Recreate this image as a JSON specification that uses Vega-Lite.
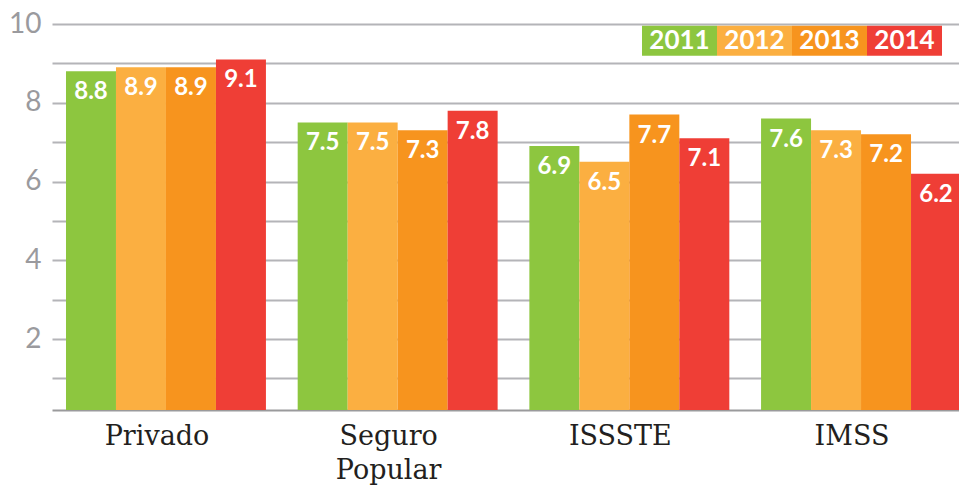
{
  "$schema": "https://vega.github.io/schema/vega-lite/v6.json",
  "width": 915,
  "height": 386,
  "autosize": {"type": "none"},
  "padding": {"left": 44, "top": 24, "right": 0, "bottom": 77},
  "background": "white",
  "config": {"view": {"stroke": null}},
  "data": {
    "values": [
      {"sector": "Privado", "year": "2011", "value": 8.8},
      {"sector": "Privado", "year": "2012", "value": 8.9},
      {"sector": "Privado", "year": "2013", "value": 8.9},
      {"sector": "Privado", "year": "2014", "value": 9.1},
      {"sector": "Seguro Popular", "year": "2011", "value": 7.5},
      {"sector": "Seguro Popular", "year": "2012", "value": 7.5},
      {"sector": "Seguro Popular", "year": "2013", "value": 7.3},
      {"sector": "Seguro Popular", "year": "2014", "value": 7.8},
      {"sector": "ISSSTE", "year": "2011", "value": 6.9},
      {"sector": "ISSSTE", "year": "2012", "value": 6.5},
      {"sector": "ISSSTE", "year": "2013", "value": 7.7},
      {"sector": "ISSSTE", "year": "2014", "value": 7.1},
      {"sector": "IMSS", "year": "2011", "value": 7.6},
      {"sector": "IMSS", "year": "2012", "value": 7.3},
      {"sector": "IMSS", "year": "2013", "value": 7.2},
      {"sector": "IMSS", "year": "2014", "value": 6.2}
    ]
  },
  "encoding": {
    "x": {
      "field": "sector",
      "type": "nominal",
      "sort": ["Privado", "Seguro Popular", "ISSSTE", "IMSS"],
      "scale": {"range": [8, 931], "paddingInner": 0.137, "paddingOuter": 0.0604},
      "axis": {
        "title": null,
        "domainColor": "#9a9a9c",
        "domainWidth": 2,
        "ticks": false,
        "labelAngle": 0,
        "labelFont": "DejaVu Serif",
        "labelFontSize": 27,
        "labelColor": "#231f20",
        "labelPadding": 13,
        "labelOffset": -9,
        "labelLineHeight": 34,
        "labelExpr": "datum.label == 'Seguro Popular' ? ['Seguro', 'Popular'] : datum.label"
      }
    },
    "xOffset": {
      "field": "year",
      "type": "nominal",
      "scale": {"paddingInner": 0, "paddingOuter": 0}
    },
    "y": {
      "field": "value",
      "type": "quantitative",
      "scale": {"domain": [0.2, 10], "nice": false, "zero": false},
      "axis": {
        "title": null,
        "domain": false,
        "ticks": false,
        "grid": true,
        "gridColor": "#b4b4b8",
        "gridWidth": 2,
        "values": [1, 2, 3, 4, 5, 6, 7, 8, 9, 10],
        "labelExpr": "datum.value % 2 == 0 ? datum.label : ''",
        "labelFont": "Lato",
        "labelFontSize": 28,
        "labelColor": "#9a9a9e",
        "labelPadding": 3
      }
    }
  },
  "layer": [
    {
      "mark": {"type": "bar", "clip": true},
      "encoding": {
        "color": {
          "field": "year",
          "type": "nominal",
          "scale": {"domain": ["2011", "2012", "2013", "2014"], "range": ["#8dc63f", "#fbaf41", "#f7941e", "#ef3e36"]},
          "legend": {
            "orient": "none",
            "legendX": 598,
            "legendY": -21,
            "direction": "horizontal",
            "title": null,
            "symbolType": "M-1,-0.4H1V0.4H-1Z",
            "symbolSize": 5625,
            "symbolStrokeWidth": 0,
            "symbolOpacity": 1,
            "labelAlign": "center",
            "labelOffset": -37.5,
            "labelColor": "white",
            "labelFont": "Lato",
            "labelFontWeight": "bold",
            "labelFontSize": 26,
            "columnPadding": 0,
            "padding": 0
          }
        }
      }
    },
    {
      "mark": {"type": "text", "baseline": "top", "dy": 9, "color": "white", "font": "Lato", "fontWeight": "bold", "fontSize": 24, "clip": true},
      "encoding": {
        "text": {"field": "value", "type": "quantitative", "format": ".1f"}
      }
    }
  ]
}
